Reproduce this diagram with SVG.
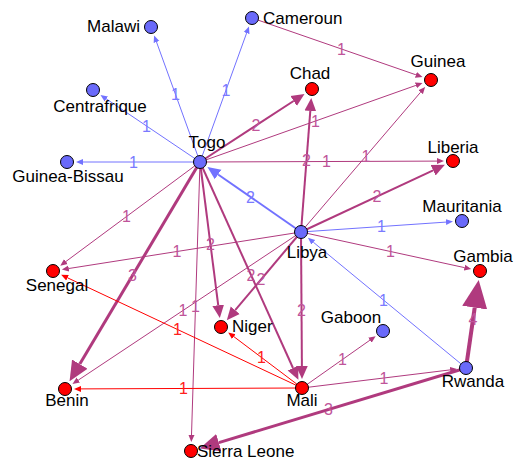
<svg xmlns="http://www.w3.org/2000/svg" width="519" height="462" viewBox="0 0 519 462">
<style>
.e{fill:none;stroke-linecap:butt}
.b{stroke:#7272ff}
.m{stroke:#b03a7e}
.r{stroke:#ff0000}
.w1{stroke-width:1}
.w2{stroke-width:2}
.w3{stroke-width:3}
.w4{stroke-width:4}
.lb{font-family:"Liberation Sans",Arial,sans-serif;font-size:16px;text-anchor:middle}
.lb.b{fill:#7a7aff;stroke:none}
.lb.m{fill:#c0559a;stroke:none}
.lb.r{fill:#ff2020;stroke:none}
.n circle{stroke:#000;stroke-width:1}
.nb circle{fill:#6a6afa}
.nr circle{fill:#ff0000}
.n text{font-family:"Liberation Sans",Arial,sans-serif;font-size:17px;fill:#000}
</style>
<defs>
<marker id="ab1" markerUnits="userSpaceOnUse" viewBox="0 0 10 10" refX="0" refY="5" markerWidth="7" markerHeight="7" orient="auto"><path d="M0,0.7 L10,5 L0,9.3 z" fill="#7272ff"/></marker>
<marker id="ab2" markerUnits="userSpaceOnUse" viewBox="0 0 10 10" refX="0" refY="5" markerWidth="13" markerHeight="13" orient="auto"><path d="M0,0.5 L10,5 L0,9.5 z" fill="#7272ff"/></marker>
<marker id="am1" markerUnits="userSpaceOnUse" viewBox="0 0 10 10" refX="0" refY="5" markerWidth="7" markerHeight="7" orient="auto"><path d="M0,0.7 L10,5 L0,9.3 z" fill="#b03a7e"/></marker>
<marker id="am2" markerUnits="userSpaceOnUse" viewBox="0 0 10 10" refX="0" refY="5" markerWidth="13" markerHeight="13" orient="auto"><path d="M0,0.5 L10,5 L0,9.5 z" fill="#b03a7e"/></marker>
<marker id="am3" markerUnits="userSpaceOnUse" viewBox="0 0 10 10" refX="0" refY="5" markerWidth="20" markerHeight="20" orient="auto"><path d="M0,0.5 L10,5 L0,9.5 z" fill="#b03a7e"/></marker>
<marker id="am4" markerUnits="userSpaceOnUse" viewBox="0 0 10 10" refX="0" refY="5" markerWidth="28" markerHeight="28" orient="auto"><path d="M0,0.5 L10,5 L0,9.5 z" fill="#b03a7e"/></marker>
<marker id="ar1" markerUnits="userSpaceOnUse" viewBox="0 0 10 10" refX="0" refY="5" markerWidth="7" markerHeight="7" orient="auto"><path d="M0,0.7 L10,5 L0,9.3 z" fill="#ff0000"/></marker>
</defs>
<g id="connectors">
<path class="e b w1" d="M200,162 L156.5,42" marker-end="url(#ab1)"/>
<path class="e b w1" d="M200,162 L246.6,33.1" marker-end="url(#ab1)"/>
<path class="e b w1" d="M200,162 L106.3,98.9" marker-end="url(#ab1)"/>
<path class="e b w1" d="M200,162 L83,162" marker-end="url(#ab1)"/>
<path class="e b w2" d="M301,232 L218.1,174.5" marker-end="url(#ab2)"/>
<path class="e b w1" d="M301,232 L446,222.1" marker-end="url(#ab1)"/>
<path class="e b w1" d="M466,368 L313.3,242.2" marker-end="url(#ab1)"/>
<path class="e m w1" d="M252,18 L415.9,74.8" marker-end="url(#am1)"/>
<path class="e m w2" d="M200,162 L293.6,101" marker-end="url(#am2)"/>
<path class="e m w1" d="M200,162 L415.9,85.4" marker-end="url(#am1)"/>
<path class="e m w1" d="M200,162 L437,161.1" marker-end="url(#am1)"/>
<path class="e m w2" d="M301,232 L310.3,110.9" marker-end="url(#am2)"/>
<path class="e m w1" d="M301,232 L420.6,92.2" marker-end="url(#am1)"/>
<path class="e m w2" d="M301,232 L433.1,170.3" marker-end="url(#am2)"/>
<path class="e m w1" d="M301,232 L464.4,267.6" marker-end="url(#am1)"/>
<path class="e m w1" d="M301,232 L68.8,268.5" marker-end="url(#am1)"/>
<path class="e m w1" d="M200,162 L65.9,261.5" marker-end="url(#am1)"/>
<path class="e m w3" d="M200,162 L79.8,364.1" marker-end="url(#am3)"/>
<path class="e m w2" d="M200,162 L218.2,305.2" marker-end="url(#am2)"/>
<path class="e m w2" d="M200,162 L293,368" marker-end="url(#am2)"/>
<path class="e m w2" d="M301,232 L235.2,310.2" marker-end="url(#am2)"/>
<path class="e m w1" d="M200,162 L191.5,435" marker-end="url(#am1)"/>
<path class="e m w1" d="M301,232 L78.3,380.1" marker-end="url(#am1)"/>
<path class="e m w2" d="M301,232 L301.9,366" marker-end="url(#am2)"/>
<path class="e m w1" d="M302,388 L369.9,340.2" marker-end="url(#am1)"/>
<path class="e m w1" d="M302,388 L450.1,369.9" marker-end="url(#am1)"/>
<path class="e m w4" d="M466,368 L474.7,307.6" marker-end="url(#am4)"/>
<path class="e m w3" d="M466,368 L218.8,442.6" marker-end="url(#am3)"/>
<path class="e r w1" d="M302,388 L67.5,277.8" marker-end="url(#ar1)"/>
<path class="e r w1" d="M302,388 L233.8,336.6" marker-end="url(#ar1)"/>
<path class="e r w1" d="M302,388 L81,388.9" marker-end="url(#ar1)"/>
</g>
<g id="edge-labels">
<text class="lb b" x="175.5" y="100">1</text>
<text class="lb b" x="226" y="95.5">1</text>
<text class="lb b" x="146.5" y="131.5">1</text>
<text class="lb b" x="133.5" y="167.5">1</text>
<text class="lb b" x="250.5" y="202.5">2</text>
<text class="lb b" x="381.5" y="232">1</text>
<text class="lb b" x="383.5" y="305.5">1</text>
<text class="lb m" x="341.5" y="54.5">1</text>
<text class="lb m" x="256" y="131">2</text>
<text class="lb m" x="315.5" y="126.5">1</text>
<text class="lb m" x="326.5" y="167">1</text>
<text class="lb m" x="306.5" y="166">2</text>
<text class="lb m" x="366" y="161.5">1</text>
<text class="lb m" x="377" y="202">2</text>
<text class="lb m" x="390.5" y="257">1</text>
<text class="lb m" x="177" y="257">1</text>
<text class="lb m" x="126.5" y="222">1</text>
<text class="lb m" x="132.5" y="281">3</text>
<text class="lb m" x="210.5" y="250">2</text>
<text class="lb m" x="251" y="280.5">2</text>
<text class="lb m" x="261" y="285">2</text>
<text class="lb m" x="195.5" y="312">1</text>
<text class="lb m" x="183" y="316">1</text>
<text class="lb m" x="301.5" y="315.5">2</text>
<text class="lb m" x="342.5" y="365">1</text>
<text class="lb m" x="384" y="383.5">1</text>
<text class="lb m" x="473" y="325">4</text>
<text class="lb m" x="328.5" y="415">3</text>
<text class="lb r" x="177.5" y="335">1</text>
<text class="lb r" x="261.5" y="363">1</text>
<text class="lb r" x="183.5" y="394">1</text>
</g>
<g id="Malawi" class="n nb"><circle cx="151" cy="27" r="6.5"/><text x="140" y="32" text-anchor="end">Malawi</text></g>
<g id="Cameroun" class="n nb"><circle cx="252" cy="18" r="6.5"/><text x="263" y="24">Cameroun</text></g>
<g id="Centrafrique" class="n nb"><circle cx="93" cy="90" r="6.5"/><text x="100" y="112" text-anchor="middle">Centrafrique</text></g>
<g id="Guinea-Bissau" class="n nb"><circle cx="67" cy="162" r="6.5"/><text x="68" y="182" text-anchor="middle">Guinea-Bissau</text></g>
<g id="Togo" class="n nb"><circle cx="200" cy="162" r="6.5"/><text x="207" y="148" text-anchor="middle">Togo</text></g>
<g id="Chad" class="n nr"><circle cx="312" cy="89" r="6.5"/><text x="310" y="79" text-anchor="middle">Chad</text></g>
<g id="Guinea" class="n nr"><circle cx="431" cy="80" r="6.5"/><text x="438" y="67" text-anchor="middle">Guinea</text></g>
<g id="Liberia" class="n nr"><circle cx="453" cy="161" r="6.5"/><text x="453" y="153" text-anchor="middle">Liberia</text></g>
<g id="Libya" class="n nb"><circle cx="301" cy="232" r="6.5"/><text x="307" y="258" text-anchor="middle">Libya</text></g>
<g id="Mauritania" class="n nb"><circle cx="462" cy="221" r="6.5"/><text x="462" y="212" text-anchor="middle">Mauritania</text></g>
<g id="Gambia" class="n nr"><circle cx="480" cy="271" r="6.5"/><text x="483" y="262" text-anchor="middle">Gambia</text></g>
<g id="Senegal" class="n nr"><circle cx="53" cy="271" r="6.5"/><text x="57" y="291" text-anchor="middle">Senegal</text></g>
<g id="Niger" class="n nr"><circle cx="221" cy="327" r="6.5"/><text x="232" y="332">Niger</text></g>
<g id="Gaboon" class="n nb"><circle cx="383" cy="331" r="6.5"/><text x="351" y="323" text-anchor="middle">Gaboon</text></g>
<g id="Mali" class="n nr"><circle cx="302" cy="388" r="6.5"/><text x="302" y="406" text-anchor="middle">Mali</text></g>
<g id="Rwanda" class="n nb"><circle cx="466" cy="368" r="6.5"/><text x="473" y="387" text-anchor="middle">Rwanda</text></g>
<g id="Benin" class="n nr"><circle cx="65" cy="389" r="6.5"/><text x="67" y="406" text-anchor="middle">Benin</text></g>
<g id="Sierra-Leone" class="n nr"><circle cx="191" cy="451" r="6.5"/><text x="197" y="457">Sierra Leone</text></g>
</svg>
